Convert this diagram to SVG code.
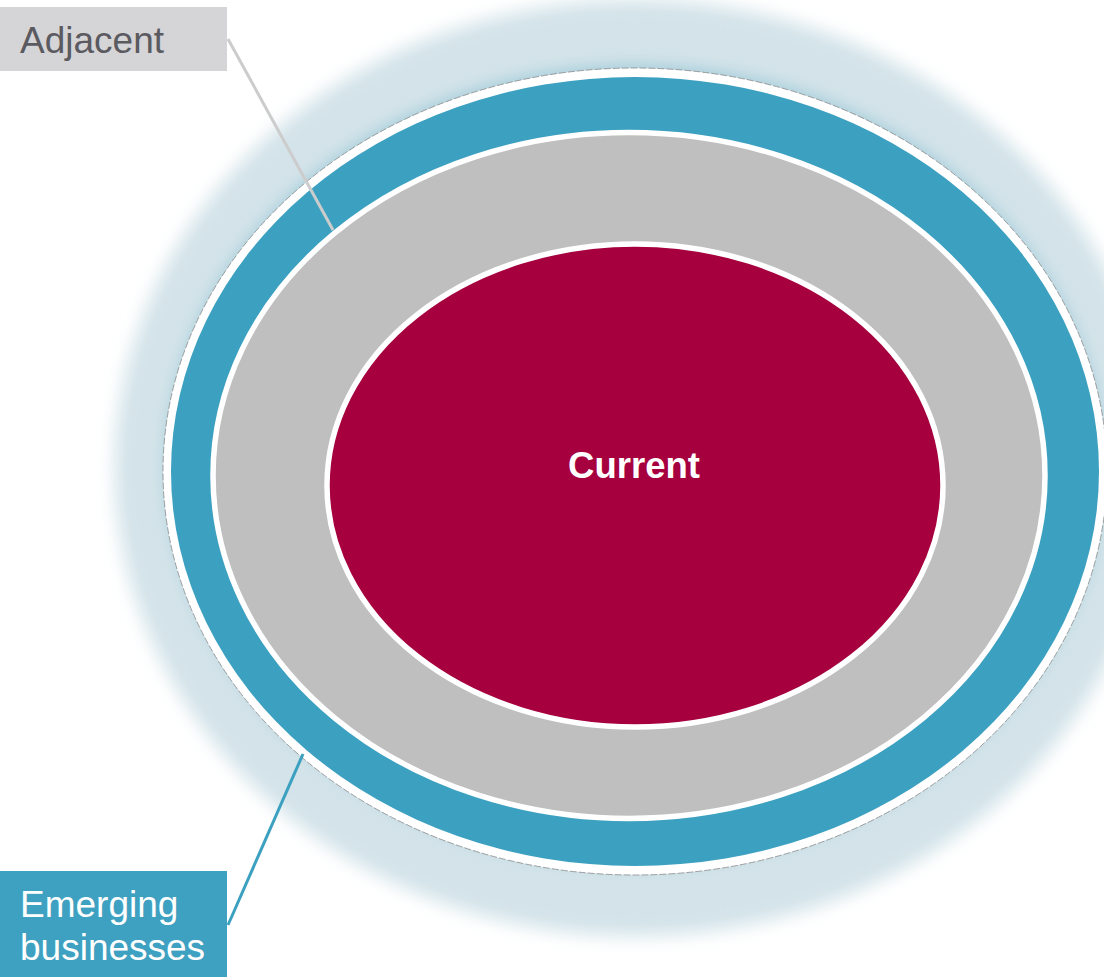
<svg xmlns="http://www.w3.org/2000/svg" width="1104" height="977" viewBox="0 0 1104 977">
  <defs>
    <filter id="halo" x="-20%" y="-20%" width="140%" height="140%">
      <feGaussianBlur stdDeviation="9"/>
    </filter>
    <filter id="halo-inner" x="-20%" y="-20%" width="140%" height="140%">
      <feGaussianBlur stdDeviation="7"/>
    </filter>
    <style>
      .label { font-family: "Liberation Sans", Arial, sans-serif; font-size: 37px; }
      .ring-sep { stroke: #ffffff; stroke-width: 5.5; }
      .leader { fill: none; stroke-width: 3; }
    </style>
  </defs>

  <rect width="1104" height="977" fill="#ffffff"/>

  <!-- soft halo behind the rings -->
  <g id="halo-glow">
    <ellipse cx="635" cy="468" rx="520" ry="468" fill="#d3e3e9" filter="url(#halo)"/>
    <ellipse cx="635" cy="466" rx="470" ry="402" fill="#a9cfdc" filter="url(#halo-inner)"/>
  </g>

  <!-- outer white rim -->
  <g id="rim">
    <ellipse cx="635" cy="471.5" rx="472" ry="403.5" fill="#ffffff" stroke="#8c8c8c" stroke-width="0.8" stroke-dasharray="7 2"/>
  </g>

  <!-- emerging businesses ring -->
  <g id="emerging">
    <ellipse cx="635" cy="471.5" rx="464" ry="394.5" fill="#3ca0c0"/>
  </g>

  <!-- adjacent ring -->
  <g id="adjacent">
    <ellipse class="ring-sep" cx="629" cy="475.5" rx="416" ry="343" fill="#bfbfbf"/>
  </g>

  <!-- current core -->
  <g id="current">
    <ellipse class="ring-sep" cx="635" cy="485.5" rx="308" ry="241.5" fill="#a6003f"/>
    <text x="634" y="478" text-anchor="middle" font-family="Liberation Sans, Arial, sans-serif" font-size="36.5" font-weight="bold" fill="#ffffff">Current</text>
  </g>

  <!-- leader lines -->
  <g id="connectors">
    <line class="leader" x1="228" y1="39" x2="333" y2="230" stroke="#cccccc"/>
    <line class="leader" x1="228" y1="925" x2="303" y2="754" stroke="#3ca0c0"/>
  </g>

  <!-- label boxes -->
  <g id="label-adjacent">
    <rect x="0" y="7" width="227" height="64" fill="#d5d4d6"/>
    <text class="label" x="20" y="53" fill="#5a5a60">Adjacent</text>
  </g>

  <g id="label-emerging">
    <rect x="0" y="871" width="227" height="106" fill="#3fa1c1"/>
    <text class="label" x="20" y="917" fill="#ffffff">Emerging</text>
    <text class="label" x="20" y="960" fill="#ffffff">businesses</text>
  </g>
</svg>
